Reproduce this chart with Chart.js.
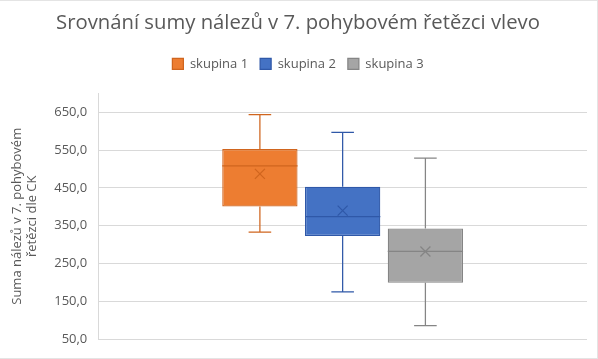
<!DOCTYPE html>
<html>
<head>
<meta charset="utf-8">
<script src="https://cdn.jsdelivr.net/npm/chart.js@4"></script>
<style>
  html, body { margin: 0; padding: 0; background: #fff; }
  #wrap { position: absolute; left: 0; top: 0; width: 598px; height: 359px; box-sizing: border-box;
          border-top: 1px solid #e4e4e4; border-right: 1px solid #e4e4e4; border-bottom: 1px solid #e4e4e4; }
</style>
</head>
<body>
<div id="wrap"><canvas id="myChart" width="597" height="357"></canvas></div>
<script>
const groups = ['skupina 1', 'skupina 2', 'skupina 3'];
const minVals = [333, 175, 86];
const q1Vals = [401, 323, 199];
const medianVals = [508, 374, 282];
const q3Vals = [553, 453, 343];
const maxVals = [644, 597, 529];
const meanVals = [487, 390, 282];
const yTicks = [50, 150, 250, 350, 450, 550, 650];

const fills = ['#ED7D31', '#4472C4', '#A5A5A5'];
const lines = ['#D0651E', '#2F58A8', '#858585'];
const fontFamily = '"Open Sans", "Noto Sans", sans-serif';

// whiskers, median and mean marks on top of the floating bars
const boxPlot = {
    id: 'boxPlot',
    afterDatasetsDraw(chart) {
        const ctx = chart.ctx;
        const y = chart.scales.y;
        chart.data.datasets.forEach((ds, i) => {
            const bar = chart.getDatasetMeta(i).data[0];
            if (!bar) return;
            const x = bar.x;
            const half = bar.width / 2;
            const cap = bar.width * 0.15;
            const yMin = y.getPixelForValue(minVals[i]);
            const yQ1 = y.getPixelForValue(q1Vals[i]);
            const yMed = y.getPixelForValue(medianVals[i]);
            const yQ3 = y.getPixelForValue(q3Vals[i]);
            const yMax = y.getPixelForValue(maxVals[i]);
            const yMean = y.getPixelForValue(meanVals[i]);
            ctx.save();
            ctx.strokeStyle = lines[i];
            ctx.lineWidth = 1.25;
            ctx.beginPath();
            ctx.moveTo(x, yQ3); ctx.lineTo(x, yMax);
            ctx.moveTo(x - cap, yMax); ctx.lineTo(x + cap, yMax);
            ctx.moveTo(x, yQ1); ctx.lineTo(x, yMin);
            ctx.moveTo(x - cap, yMin); ctx.lineTo(x + cap, yMin);
            ctx.moveTo(x - half, yMed); ctx.lineTo(x + half, yMed);
            ctx.stroke();
            ctx.beginPath();
            const m = 5;
            ctx.moveTo(x - m, yMean - m); ctx.lineTo(x + m, yMean + m);
            ctx.moveTo(x + m, yMean - m); ctx.lineTo(x - m, yMean + m);
            ctx.stroke();
            ctx.restore();
        });
    }
};

// extra room under the legend
const legendGap = {
    id: 'legendGap',
    beforeInit(chart) {
        const fit = chart.legend.fit;
        chart.legend.fit = function () {
            fit.call(this);
            this.height += 13;
        };
    }
};

const ctx = document.getElementById('myChart').getContext('2d');

new Chart(ctx, {
    type: 'bar',
    data: {
        labels: [''],
        datasets: groups.map((g, i) => ({
            label: g,
            data: [[q1Vals[i], q3Vals[i]]],
            backgroundColor: fills[i],
            borderColor: lines[i],
            borderWidth: 1.25,
            borderSkipped: false,
            categoryPercentage: 0.508,
            barPercentage: 0.91
        }))
    },
    options: {
        responsive: false,
        animation: false,
        layout: { padding: { left: 9, right: 10, top: 0, bottom: 10 } },
        scales: {
            x: { display: false },
            y: {
                min: 50,
                max: 700,
                afterBuildTicks: (scale) => { scale.ticks = yTicks.map(v => ({ value: v })); },
                grid: { color: '#d9d9d9', drawTicks: false },
                border: { display: true, color: '#d9d9d9' },
                ticks: {
                    padding: 11,
                    color: '#595959',
                    font: { family: fontFamily, size: 13 },
                    callback: (v) => v.toFixed(1).replace('.', ',')
                },
                title: {
                    display: true,
                    text: ['Suma nálezů v 7. pohybovém', 'řetězci dle CK'],
                    color: '#595959',
                    font: { family: fontFamily, size: 13 },
                    padding: { top: 0, bottom: 3 }
                }
            }
        },
        plugins: {
            tooltip: { enabled: false },
            title: {
                display: true,
                text: 'Srovnání sumy nálezů v 7. pohybovém řetězci vlevo',
                color: '#595959',
                font: { family: fontFamily, size: 20.3, weight: 'normal' },
                padding: { top: 10, bottom: 10 }
            },
            legend: {
                labels: {
                    boxWidth: 11,
                    boxHeight: 11,
                    padding: 12,
                    color: '#595959',
                    font: { family: fontFamily, size: 13 }
                }
            }
        }
    },
    plugins: [boxPlot, legendGap]
});
</script>
</body>
</html>
